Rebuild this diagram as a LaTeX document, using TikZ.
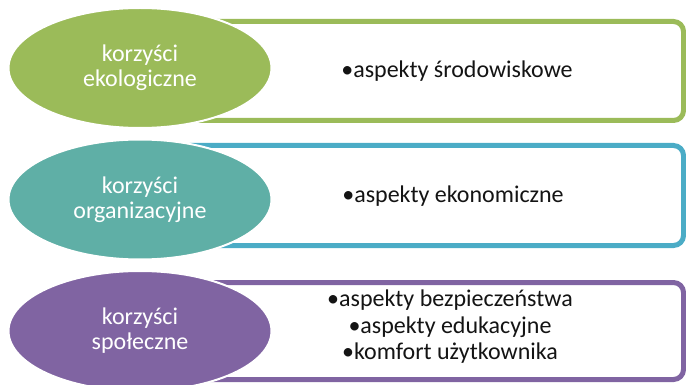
\documentclass[tikz,border=0pt]{standalone}
\usepackage{fontspec}
\setmainfont{Carlito}
\usetikzlibrary{shapes.geometric}
\definecolor{kzGreen}{HTML}{9BBB59}
\definecolor{kzTeal}{HTML}{5FAFA6}
\definecolor{kzBlue}{HTML}{4BACC6}
\definecolor{kzPurple}{HTML}{8064A2}
\definecolor{kzText}{HTML}{141414}
\tikzset{
  kz box/.style={rectangle, rounded corners=10pt, draw=#1, line width=5pt, fill=white, inner sep=0pt, minimum width=503.5pt},
  kz oval/.style={ellipse, fill=#1, draw=white, line width=2pt, inner sep=0pt, minimum width=263pt, minimum height=120pt, align=center, text=white, font=\fontsize{24}{25}\selectfont},
  kz item/.style={align=center, text=kzText, font=\fontsize{24}{26.5}\selectfont, inner sep=0pt},
}

\begin{document}
\begin{tikzpicture}[x=1pt, y=-1pt]
  \useasboundingbox (0,0) rectangle (686,385);

  % Frames on the right, partly hidden behind the ovals
  \node[kz box=kzGreen, minimum height=99pt] (ekoBox) at (431.75,71) {};
  \node[kz box=kzBlue, minimum height=100pt] (orgBox) at (431.75,195.5) {};
  \node[kz box=kzPurple, minimum height=97pt] (spoBox) at (431.75,331) {};

  % Ovals with the three kinds of benefit
  \node[kz oval=kzGreen] (eko) at (140,68) {korzyści\\ekologiczne};
  \node[kz oval=kzTeal] (org) at (140,199.5) {korzyści\\organizacyjne};
  \node[kz oval=kzPurple] (spo) at (140,331) {korzyści\\społeczne};

  % Bullet lists inside the frames
  \node[kz item] (ekoList) at (457,71) {•aspekty środowiskowe};
  \node[kz item] (orgList) at (453,196) {•aspekty ekonomiczne};
  \node[kz item] (spoList) at (450,327) {•aspekty bezpieczeństwa\\•aspekty edukacyjne\\•komfort użytkownika};
\end{tikzpicture}
\end{document}
